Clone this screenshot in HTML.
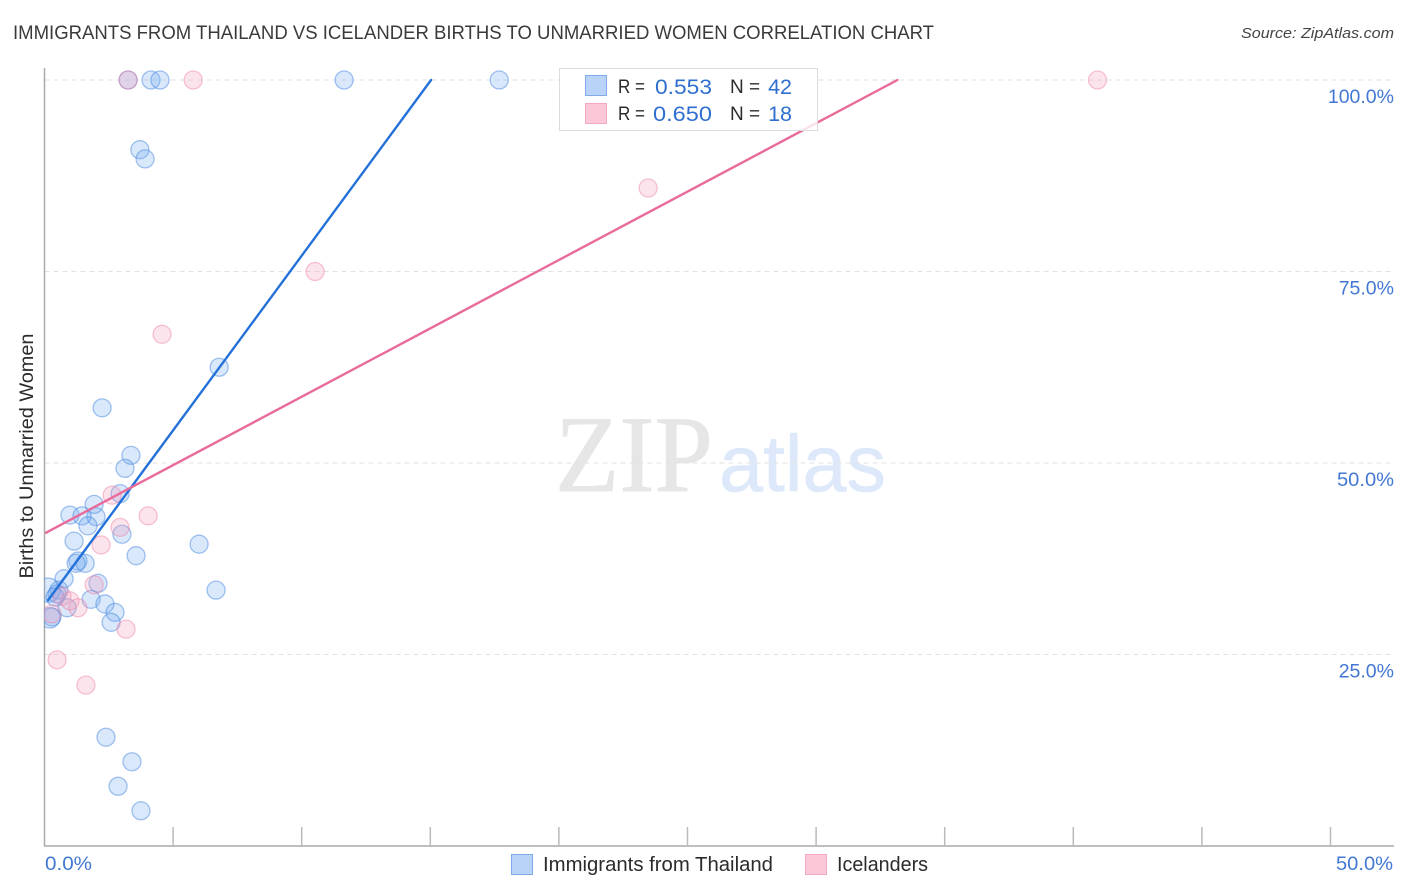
<!DOCTYPE html>
<html lang="en">
<head>
<meta charset="utf-8">
<title>Immigrants from Thailand vs Icelander Births to Unmarried Women Correlation Chart</title>
<style>
html,body{margin:0;padding:0;background:#fff;}
svg{display:block;font-family:"Liberation Sans",sans-serif;}
</style>
</head>
<body>
<svg id="chart" xmlns="http://www.w3.org/2000/svg" width="1406" height="892" viewBox="0 0 1406 892">
  <rect x="0" y="0" width="1406" height="892" fill="#fff"/>
  <text x="13" y="39" font-size="19" fill="#3a3a3a" textLength="921" lengthAdjust="spacingAndGlyphs">IMMIGRANTS FROM THAILAND VS ICELANDER BIRTHS TO UNMARRIED WOMEN CORRELATION CHART</text>
  <text x="1241" y="38" font-size="15" font-style="italic" fill="#444" textLength="153" lengthAdjust="spacingAndGlyphs">Source: ZipAtlas.com</text>
  <g>
    <text x="555" y="491" font-family="'Liberation Serif',serif" font-size="109" fill="#e6e6e6" stroke="#e6e6e6" stroke-width="0.8" textLength="158" lengthAdjust="spacingAndGlyphs">ZIP</text>
    <text x="719" y="491" font-size="80" fill="#dde9fa" stroke="#dde9fa" stroke-width="0.6" textLength="167" lengthAdjust="spacingAndGlyphs">atlas</text>
  </g>
  <g id="grid"></g>
  <g id="axes"></g>
  <g id="points-blue"></g>
  <g id="points-pink"></g>
  <g id="lines"></g>
  <text transform="translate(33,456) rotate(-90)" font-size="19" fill="#2b2b2b" text-anchor="middle" textLength="245" lengthAdjust="spacingAndGlyphs">Births to Unmarried Women</text>

  <g>
    <rect x="559.5" y="68.5" width="258" height="62" fill="#fff" fill-opacity="0.8" stroke="#dcdcdc" stroke-width="1"/>
    <rect x="585.5" y="75.5" width="21" height="20" fill="#b9d3f8" stroke="#7fabe9"/>
    <rect x="585.5" y="103.5" width="21" height="20" fill="#fcc8d8" stroke="#f4a9c1"/>
    <text x="618" y="93" font-size="19" fill="#2b2b2b" textLength="27" lengthAdjust="spacingAndGlyphs">R =</text>
    <text x="655" y="94" font-size="21.5" fill="#2f6fd0" textLength="57" lengthAdjust="spacingAndGlyphs">0.553</text>
    <text x="730" y="93" font-size="19" fill="#2b2b2b">N =</text>
    <text x="792" y="94" font-size="21.5" fill="#2f6fd0" text-anchor="end">42</text>
    <text x="618" y="120" font-size="19" fill="#2b2b2b" textLength="27" lengthAdjust="spacingAndGlyphs">R =</text>
    <text x="653" y="121" font-size="21.5" fill="#2f6fd0" textLength="59" lengthAdjust="spacingAndGlyphs">0.650</text>
    <text x="730" y="120" font-size="19" fill="#2b2b2b">N =</text>
    <text x="792" y="121" font-size="21.5" fill="#2f6fd0" text-anchor="end">18</text>
  </g>

  <g>
    <rect x="511.5" y="854.5" width="21" height="20" fill="#b9d3f8" stroke="#7fabe9"/>
    <text x="543" y="871" font-size="20" fill="#2b2b2b" textLength="230" lengthAdjust="spacingAndGlyphs">Immigrants from Thailand</text>
    <rect x="805.5" y="854.5" width="21" height="20" fill="#fcc8d8" stroke="#f4a9c1"/>
    <text x="837" y="871" font-size="20" fill="#2b2b2b" textLength="91" lengthAdjust="spacingAndGlyphs">Icelanders</text>
  </g>
</svg>
<script>
// Chart data (percent values)
const yTickValues = [25, 50, 75, 100];
const yTickLabels = ["25.0%", "50.0%", "75.0%", "100.0%"];
const xTickValues = [5, 10, 15, 20, 25, 30, 35, 40, 45, 50];
const xEndLabels = ["0.0%", "50.0%"];

const blueX = [3.25,4.14,4.49,11.65,17.68,3.71,3.91,6.79,2.24,3.36,3.13,2.94,1.93,0.99,1.46,2.0,1.69,3.01,1.15,6.01,3.56,1.30,1.23,1.58,0.76,2.08,6.67,0.56,0.14,0.49,0.41,1.81,2.35,0.88,2.74,2.59,0.29,0.21,2.39,3.40,2.86,3.75];
const blueY = [100,100,100,100,100,90.9,89.7,62.5,57.2,51.0,49.3,46.0,44.6,43.2,43.1,43.0,41.8,40.7,39.8,39.4,37.9,37.2,36.9,36.9,34.9,34.3,33.4,33.4,33.4,32.9,32.5,32.2,31.6,31.1,30.5,29.2,29.9,29.8,14.2,11.0,7.8,4.6];
const blueWeight = [1,1,1,1,1,1,1,1,1,1,1,1,1,1,1,1,1,1,1,1,1,1,1,1,1,1,1,1,1.8,1,1,1,1,1,1,1,1,1.3,1,1,1,1];

const pinkX = [3.25,5.78,40.94,23.47,10.52,4.57,2.63,4.03,2.94,2.2,1.93,0.68,0.99,1.30,0.29,3.17,0.49,1.61];
const pinkY = [100,100,100,85.9,75.0,66.8,45.8,43.1,41.6,39.3,34.1,32.6,32.0,31.1,30.3,28.3,24.3,21.0];

const blueTrendX = [0.14, 15.03];
const blueTrendY = [32.1, 100];
const pinkTrendX = [0.06, 33.16];
const pinkTrendY = [40.9, 100];

// Axis functions
const plotLeft = 44.5, plotBottom = 846, plotRight = 1394;
function xScale(v) { return plotLeft + v * (1330.5 - plotLeft) / 50; }
function yScale(v) { return plotBottom - v * (plotBottom - 80) / 100; }

const NS = "http://www.w3.org/2000/svg";
function make(tag, attrs, parent) {
  const el = document.createElementNS(NS, tag);
  for (const k in attrs) el.setAttribute(k, attrs[k]);
  parent.appendChild(el);
  return el;
}

const grid = document.getElementById("grid");
const axes = document.getElementById("axes");
const chart = document.getElementById("chart");

yTickValues.forEach(function (v, i) {
  const line = make("line", {x1: plotLeft, x2: plotRight, y1: yScale(v), y2: yScale(v), stroke: "#e2e2e2", "stroke-width": 1, "stroke-dasharray": "5 4"}, grid);
  
  
  const label = make("text", {x: 1394, y: yScale(v) + 23, "font-size": 19.5, fill: "#4277d4", "text-anchor": "end"}, axes);
  
  
  label.textContent = yTickLabels[i];
  if (v === 50) {
    label.setAttribute('textLength', '57');
    label.setAttribute('lengthAdjust', 'spacingAndGlyphs');
  }
});

const yAxis = make("line", {x1: 44.5, x2: 44.5, y1: 68, y2: 846, stroke: "#aaaaaa", "stroke-width": 1.5}, axes);


const xAxis = make("line", {x1: 44, x2: plotRight, y1: 846, y2: 846, stroke: "#aaaaaa", "stroke-width": 1.5}, axes);



xTickValues.forEach(function (v) {
  const tick = make("line", {x1: xScale(v), x2: xScale(v), y1: 827, y2: 846, stroke: "#bbbbbb", "stroke-width": 1.5}, axes);
  
  
});

const xLabelLeft = make("text", {x: 45, y: 870, "font-size": 19.5, fill: "#4277d4", textLength: 47, lengthAdjust: "spacingAndGlyphs"}, axes);


xLabelLeft.textContent = xEndLabels[0];
const xLabelRight = make("text", {x: 1336, y: 870, "font-size": 19.5, fill: "#4277d4", textLength: 57, lengthAdjust: "spacingAndGlyphs"}, axes);


xLabelRight.textContent = xEndLabels[1];

// Clip for marks at the left axis
const defs = make("defs", {}, chart);
const clip = make("clipPath", {id: "plot-clip"}, defs);
make("rect", {x: 44, y: 60, width: 1350, height: 786}, clip);

const blueGroup = document.getElementById("points-blue");
blueGroup.setAttribute("clip-path", "url(#plot-clip)");
blueX.forEach(function (v, i) {
  const dot = make("circle", {cx: xScale(v), cy: yScale(blueY[i]), r: 9 * Math.sqrt(blueWeight[i]), fill: "#6ea6f0", "fill-opacity": 0.26, stroke: "#4a8ae0", "stroke-opacity": 0.5, "stroke-width": 1.3}, blueGroup);
  
  
});

const pinkGroup = document.getElementById("points-pink");
pinkGroup.setAttribute("clip-path", "url(#plot-clip)");
pinkX.forEach(function (v, i) {
  const dot = make("circle", {cx: xScale(v), cy: yScale(pinkY[i]), r: 9, fill: "#f59ab8", "fill-opacity": 0.27, stroke: "#ee7ea3", "stroke-opacity": 0.45, "stroke-width": 1.3}, pinkGroup);
  
  
});

const lines = document.getElementById("lines");
const blueLine = make("line", {x1: xScale(blueTrendX[0]), y1: yScale(blueTrendY[0]), x2: xScale(blueTrendX[1]), y2: yScale(blueTrendY[1]), stroke: "#2472d9", "stroke-width": 2.4, "stroke-linecap": "round"}, lines);


const pinkLine = make("line", {x1: xScale(pinkTrendX[0]), y1: yScale(pinkTrendY[0]), x2: xScale(pinkTrendX[1]), y2: yScale(pinkTrendY[1]), stroke: "#e96b9b", "stroke-width": 2.4, "stroke-linecap": "round"}, lines);


</script>
</body>
</html>
